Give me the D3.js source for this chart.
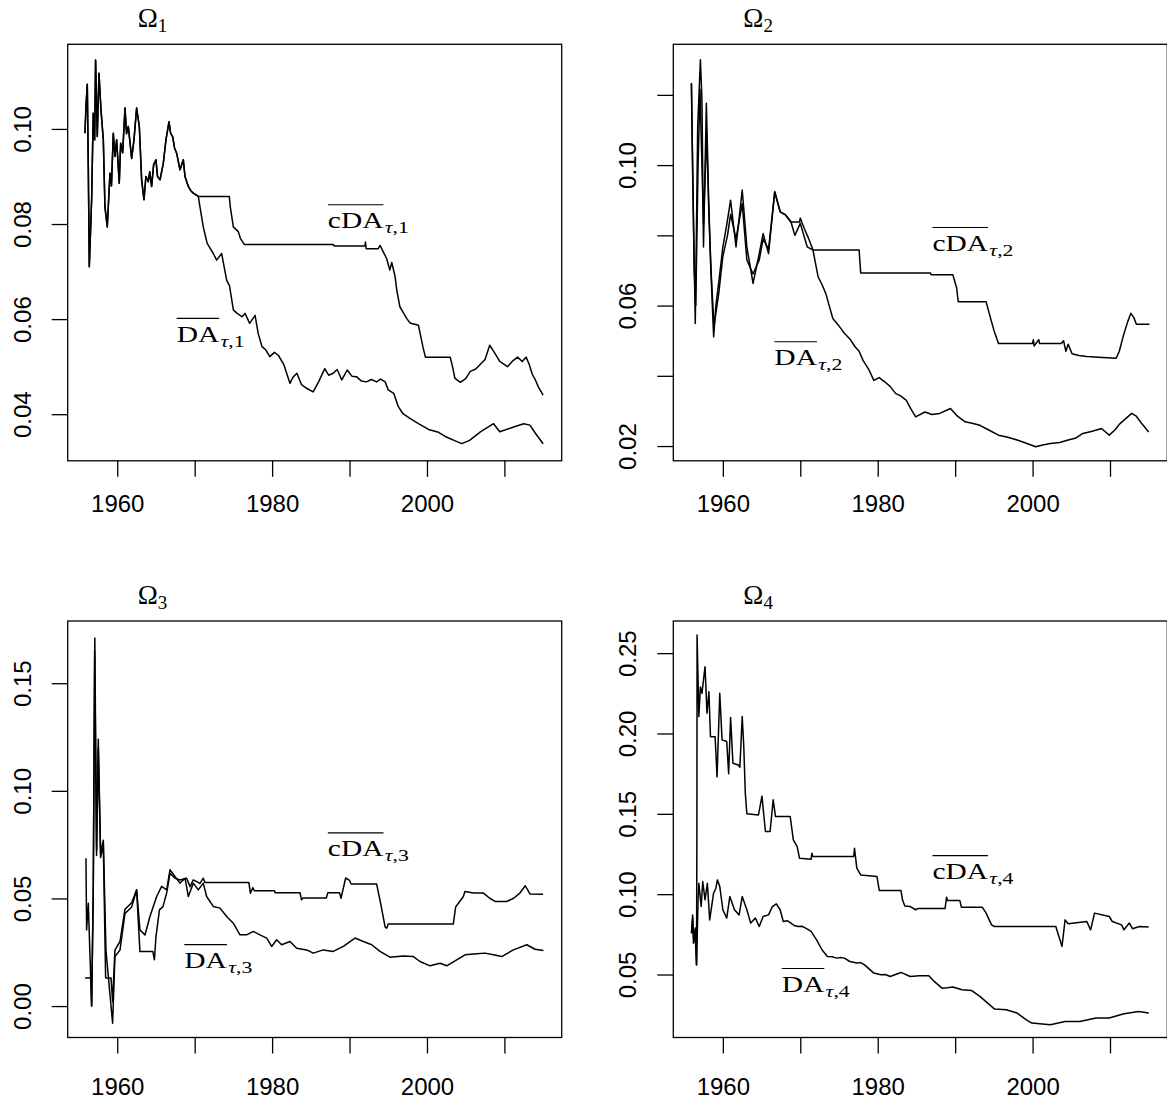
<!DOCTYPE html>
<html>
<head>
<meta charset="utf-8">
<script src="https://cdnjs.cloudflare.com/ajax/libs/d3/7.8.5/d3.min.js"></script>
<style>
  body { margin: 0; background: #fff; }
</style>
</head>
<body>
<svg class="chart"></svg>
<script>
// four panels, DA and cDA series for each Omega

var xTicks = [1960, 1970, 1980, 1990, 2000, 2010];
var xTickLabels = ["1960", "", "1980", "", "2000", ""];

var yTicks1 = [0.04, 0.06, 0.08, 0.10];
var yLabels1 = ["0.04", "0.06", "0.08", "0.10"];
var yTicks2 = [0.02, 0.04, 0.06, 0.08, 0.10, 0.12];
var yLabels2 = ["0.02", "", "0.06", "", "0.10", ""];
var yTicks3 = [0.00, 0.05, 0.10, 0.15];
var yLabels3 = ["0.00", "0.05", "0.10", "0.15"];
var yTicks4 = [0.05, 0.10, 0.15, 0.20, 0.25];
var yLabels4 = ["0.05", "0.10", "0.15", "0.20", "0.25"];

// panel 1
var early1 = [[1955.83,0.0991],[1955.96,0.1047],[1956.13,0.1094],[1956.26,0.0921],[1956.39,0.0710],[1956.69,0.0851],[1956.90,0.1033],[1957.08,0.0977],[1957.20,0.1145],[1957.42,0.0984],[1957.64,0.1117],[1957.90,0.1040],[1958.20,0.0977],[1958.41,0.0836],[1958.71,0.0794],[1959.06,0.0907],[1959.25,0.0880],[1959.49,0.0991],[1959.70,0.0942],[1959.92,0.0977],[1960.26,0.0886],[1960.44,0.0970],[1960.70,0.0950],[1961.00,0.1044],[1961.20,0.0990],[1961.43,0.1005],[1961.86,0.0938],[1962.16,0.0977],[1962.50,0.1044],[1962.85,0.1005],[1963.15,0.0893],[1963.45,0.0851],[1963.70,0.0900],[1964.01,0.0889],[1964.20,0.0910],[1964.44,0.0879],[1964.70,0.0925],[1965.00,0.0935],[1965.20,0.0900],[1965.52,0.0893],[1965.95,0.0928],[1966.29,0.0977],[1966.68,0.1015],[1966.90,0.0990],[1967.15,0.0984],[1967.40,0.0960],[1967.67,0.0949],[1968.10,0.0914],[1968.53,0.0935],[1968.75,0.0900],[1969.18,0.0879],[1969.50,0.0870],[1969.82,0.0865],[1970.47,0.0858]];
var da1Tail = [[1970.68,0.0836],[1971.11,0.0794],[1971.60,0.0760],[1972.40,0.0738],[1972.84,0.0724],[1973.48,0.0738],[1974.13,0.0682],[1974.50,0.0670],[1975.00,0.0619],[1975.50,0.0612],[1976.10,0.0605],[1976.50,0.0612],[1977.10,0.0591],[1977.80,0.0608],[1978.20,0.0570],[1978.70,0.0542],[1979.20,0.0535],[1979.70,0.0521],[1980.30,0.0530],[1980.80,0.0524],[1981.50,0.0505],[1982.30,0.0465],[1982.70,0.0478],[1983.20,0.0486],[1983.80,0.0462],[1984.50,0.0454],[1985.30,0.0447],[1986.00,0.0468],[1986.80,0.0496],[1987.30,0.0482],[1987.90,0.0486],[1988.40,0.0494],[1989.00,0.0472],[1989.70,0.0493],[1990.30,0.0480],[1990.90,0.0479],[1991.50,0.0470],[1992.20,0.0468],[1992.80,0.0473],[1993.50,0.0468],[1994.00,0.0474],[1994.60,0.0468],[1995.00,0.0451],[1995.70,0.0444],[1996.30,0.0416],[1996.90,0.0401],[1997.80,0.0391],[1998.90,0.0380],[2000.20,0.0368],[2001.50,0.0362],[2002.50,0.0352],[2003.50,0.0345],[2004.50,0.0338],[2005.50,0.0345],[2006.90,0.0363],[2008.60,0.0380],[2009.40,0.0363],[2011.20,0.0373],[2012.50,0.0380],[2013.30,0.0377],[2014.00,0.0360],[2015.00,0.0338]];
var cda1Tail = [[1974.47,0.0858],[1974.60,0.0836],[1974.99,0.0794],[1975.63,0.0784],[1975.90,0.0770],[1976.41,0.0757],[1987.90,0.0757],[1988.00,0.0754],[1992.00,0.0754],[1992.05,0.0762],[1992.15,0.0748],[1993.70,0.0748],[1993.94,0.0755],[1994.37,0.0741],[1994.80,0.0727],[1995.20,0.0703],[1995.45,0.0719],[1995.88,0.0690],[1996.10,0.0661],[1996.50,0.0626],[1997.00,0.0612],[1997.40,0.0601],[1997.80,0.0592],[1998.90,0.0587],[1999.20,0.0563],[1999.50,0.0540],[1999.80,0.0520],[2003.00,0.0520],[2003.30,0.0500],[2003.60,0.0476],[2004.30,0.0467],[2005.00,0.0475],[2005.60,0.0490],[2006.30,0.0495],[2006.90,0.0505],[2007.50,0.0515],[2008.10,0.0545],[2008.70,0.0530],[2009.40,0.0511],[2010.40,0.0500],[2011.00,0.0511],[2011.70,0.0520],[2012.30,0.0511],[2012.80,0.0520],[2013.20,0.0505],[2013.60,0.0484],[2014.00,0.0472],[2014.40,0.0457],[2015.00,0.0440]];
var da1 = early1.concat(da1Tail);
var cda1 = early1.concat(cda1Tail);

// panel 2
var da2 = [[1955.94,0.1233],[1956.03,0.1090],[1956.23,0.0815],[1956.44,0.0549],[1956.75,0.1109],[1957.10,0.1300],[1957.30,0.1185],[1957.50,0.0767],[1957.87,0.1176],[1958.17,0.0900],[1958.40,0.0729],[1958.81,0.0511],[1959.10,0.0600],[1959.50,0.0672],[1960.00,0.0767],[1960.50,0.0830],[1961.00,0.0900],[1961.70,0.0767],[1962.50,0.0929],[1963.10,0.0767],[1963.90,0.0663],[1964.70,0.0748],[1965.20,0.0805],[1965.90,0.0748],[1966.70,0.0924],[1967.40,0.0867],[1968.10,0.0858],[1968.80,0.0838],[1969.30,0.0800],[1970.00,0.0834],[1970.90,0.0767],[1971.64,0.0758],[1972.30,0.0682],[1972.80,0.0660],[1973.30,0.0634],[1974.20,0.0563],[1974.90,0.0545],[1975.70,0.0521],[1976.40,0.0505],[1977.10,0.0482],[1977.60,0.0470],[1978.10,0.0444],[1978.80,0.0420],[1979.50,0.0387],[1980.20,0.0395],[1980.90,0.0383],[1981.60,0.0370],[1982.30,0.0350],[1983.00,0.0342],[1983.70,0.0330],[1984.30,0.0305],[1984.90,0.0283],[1986.10,0.0297],[1987.00,0.0290],[1988.00,0.0293],[1989.40,0.0307],[1990.30,0.0285],[1991.30,0.0269],[1992.20,0.0265],[1993.20,0.0259],[1994.40,0.0245],[1995.60,0.0231],[1996.80,0.0225],[1998.00,0.0217],[1999.20,0.0208],[2000.40,0.0198],[2001.30,0.0203],[2002.30,0.0207],[2003.50,0.0210],[2004.60,0.0217],[2005.50,0.0222],[2006.50,0.0236],[2007.70,0.0242],[2008.90,0.0250],[2009.90,0.0231],[2010.60,0.0245],[2011.30,0.0264],[2012.80,0.0293],[2013.40,0.0285],[2014.10,0.0264],[2015.00,0.0240]];
var cda2 = [[1955.94,0.1233],[1956.10,0.0980],[1956.30,0.0700],[1956.50,0.0600],[1956.80,0.1000],[1957.05,0.1215],[1957.25,0.1040],[1957.50,0.0830],[1957.90,0.1090],[1958.20,0.0860],[1958.50,0.0690],[1958.85,0.0540],[1959.50,0.0640],[1960.00,0.0740],[1960.60,0.0800],[1961.00,0.0860],[1961.70,0.0790],[1962.50,0.0890],[1963.10,0.0730],[1963.90,0.0690],[1964.70,0.0730],[1965.20,0.0790],[1965.90,0.0760],[1966.70,0.0924],[1967.40,0.0867],[1968.10,0.0858],[1968.80,0.0838],[1969.90,0.0838],[1970.00,0.0849],[1970.50,0.0820],[1971.00,0.0795],[1971.64,0.0758],[1977.60,0.0758],[1977.80,0.0693],[1986.80,0.0693],[1986.90,0.0688],[1989.70,0.0688],[1990.20,0.0650],[1990.40,0.0611],[1994.00,0.0611],[1994.50,0.0570],[1995.00,0.0530],[1995.60,0.0492],[2000.00,0.0492],[2000.10,0.0503],[2000.20,0.0485],[2000.80,0.0503],[2000.90,0.0492],[2003.70,0.0492],[2004.00,0.0500],[2004.30,0.0470],[2004.60,0.0490],[2005.10,0.0463],[2006.00,0.0458],[2007.00,0.0455],[2008.50,0.0453],[2010.80,0.0450],[2011.20,0.0470],[2011.80,0.0520],[2012.30,0.0555],[2012.70,0.0578],[2013.10,0.0565],[2013.40,0.0547],[2015.10,0.0547]];

// panel 3
var da3 = [[1955.96,0.0687],[1956.04,0.0354],[1956.26,0.0478],[1956.69,0.0000],[1956.90,0.0540],[1957.10,0.1710],[1957.33,0.0725],[1957.55,0.1240],[1957.85,0.0710],[1958.20,0.0770],[1958.54,0.0260],[1959.40,-0.0080],[1959.70,0.0230],[1960.35,0.0260],[1961.00,0.0430],[1961.86,0.0460],[1962.50,0.0540],[1962.93,0.0354],[1963.58,0.0330],[1964.22,0.0416],[1965.09,0.0509],[1965.73,0.0556],[1966.38,0.0540],[1966.81,0.0633],[1967.46,0.0602],[1968.10,0.0571],[1968.75,0.0594],[1969.18,0.0509],[1969.82,0.0571],[1970.47,0.0540],[1971.11,0.0571],[1971.54,0.0509],[1972.40,0.0463],[1973.27,0.0455],[1974.13,0.0416],[1974.99,0.0385],[1975.85,0.0331],[1976.71,0.0331],[1977.57,0.0347],[1978.43,0.0331],[1979.30,0.0316],[1979.94,0.0277],[1980.59,0.0308],[1981.23,0.0285],[1982.31,0.0300],[1983.17,0.0269],[1984.46,0.0261],[1985.32,0.0246],[1986.61,0.0261],[1987.90,0.0254],[1989.20,0.0277],[1990.70,0.0316],[1991.78,0.0300],[1992.86,0.0285],[1993.93,0.0254],[1995.22,0.0227],[1996.95,0.0233],[1998.24,0.0230],[1999.10,0.0207],[2000.39,0.0187],[2001.69,0.0199],[2002.55,0.0187],[2003.84,0.0215],[2004.92,0.0238],[2006.43,0.0243],[2007.50,0.0246],[2008.58,0.0238],[2009.66,0.0230],[2011.16,0.0261],[2012.89,0.0285],[2013.96,0.0264],[2015.04,0.0258]];
var cda3 = [[1955.85,0.0130],[1956.60,0.0130],[1956.69,0.0000],[1956.90,0.0520],[1957.08,0.1650],[1957.33,0.0700],[1957.55,0.1200],[1957.85,0.0690],[1958.20,0.0750],[1958.50,0.0130],[1959.20,0.0130],[1959.40,0.0020],[1959.70,0.0260],[1960.35,0.0300],[1961.00,0.0450],[1961.86,0.0480],[1962.50,0.0540],[1962.93,0.0253],[1964.60,0.0253],[1964.80,0.0215],[1965.00,0.0323],[1965.45,0.0447],[1965.90,0.0462],[1966.38,0.0525],[1966.81,0.0617],[1967.46,0.0594],[1968.10,0.0586],[1968.96,0.0594],[1969.40,0.0555],[1969.82,0.0586],[1970.68,0.0570],[1971.11,0.0594],[1971.33,0.0574],[1977.00,0.0574],[1977.20,0.0524],[1977.50,0.0550],[1977.70,0.0536],[1980.30,0.0536],[1980.40,0.0527],[1983.60,0.0527],[1983.80,0.0494],[1984.00,0.0502],[1987.00,0.0502],[1987.20,0.0527],[1988.70,0.0527],[1988.90,0.0501],[1989.50,0.0595],[1990.00,0.0584],[1990.20,0.0567],[1993.50,0.0567],[1994.00,0.0480],[1994.60,0.0367],[1994.80,0.0362],[1995.00,0.0381],[2003.40,0.0381],[2003.70,0.0460],[2004.70,0.0509],[2004.90,0.0532],[2006.00,0.0525],[2007.30,0.0525],[2008.10,0.0501],[2008.80,0.0486],[2010.30,0.0486],[2011.20,0.0501],[2012.00,0.0525],[2012.70,0.0559],[2013.30,0.0521],[2015.00,0.0520]];

// panel 4
var da4 = [[1955.95,0.0757],[1956.10,0.0871],[1956.20,0.0695],[1956.40,0.0778],[1956.60,0.0560],[1956.80,0.0965],[1956.90,0.1068],[1957.20,0.0923],[1957.40,0.1079],[1957.70,0.0965],[1958.00,0.1068],[1958.30,0.0840],[1958.80,0.1006],[1959.10,0.1037],[1959.30,0.1089],[1959.60,0.1048],[1960.00,0.0903],[1960.50,0.0851],[1960.90,0.0985],[1961.50,0.0903],[1962.10,0.0871],[1962.50,0.0985],[1963.10,0.0903],[1963.60,0.0820],[1964.20,0.0851],[1964.70,0.0799],[1965.20,0.0861],[1965.90,0.0871],[1966.40,0.0923],[1966.90,0.0940],[1967.40,0.0903],[1967.80,0.0830],[1968.30,0.0835],[1968.80,0.0820],[1969.20,0.0805],[1969.70,0.0799],[1970.20,0.0800],[1970.70,0.0789],[1971.40,0.0768],[1972.10,0.0716],[1972.80,0.0654],[1973.50,0.0612],[1974.10,0.0610],[1974.70,0.0602],[1975.20,0.0606],[1975.70,0.0602],[1976.40,0.0581],[1977.30,0.0571],[1977.80,0.0574],[1978.30,0.0560],[1979.50,0.0509],[1980.40,0.0498],[1981.00,0.0500],[1981.60,0.0488],[1983.00,0.0513],[1984.20,0.0488],[1985.40,0.0492],[1986.60,0.0492],[1987.30,0.0457],[1988.30,0.0415],[1989.00,0.0418],[1989.70,0.0422],[1990.90,0.0405],[1992.10,0.0401],[1993.20,0.0364],[1994.20,0.0322],[1995.10,0.0285],[1996.60,0.0281],[1998.00,0.0260],[1999.20,0.0218],[1999.90,0.0198],[2002.30,0.0187],[2004.20,0.0208],[2006.10,0.0208],[2008.20,0.0229],[2009.90,0.0229],[2011.80,0.0256],[2013.70,0.0270],[2015.00,0.0260]];
var cda4 = [[1955.95,0.0757],[1956.10,0.0850],[1956.25,0.0700],[1956.45,0.0790],[1956.60,0.0560],[1956.65,0.1430],[1956.67,0.2613],[1956.90,0.2105],[1957.10,0.2290],[1957.30,0.2250],[1957.70,0.2416],[1957.95,0.2126],[1958.20,0.2260],[1958.40,0.1980],[1959.00,0.1980],[1959.25,0.1730],[1959.60,0.2250],[1959.90,0.1960],[1960.50,0.1950],[1960.75,0.1750],[1961.00,0.2100],[1961.30,0.1815],[1962.00,0.1804],[1962.20,0.1790],[1962.50,0.2105],[1962.70,0.1920],[1962.90,0.1628],[1963.10,0.1500],[1964.60,0.1493],[1965.05,0.1610],[1965.50,0.1390],[1966.10,0.1390],[1966.50,0.1587],[1966.80,0.1483],[1968.70,0.1483],[1969.10,0.1338],[1969.60,0.1296],[1969.90,0.1224],[1971.40,0.1218],[1971.50,0.1255],[1971.60,0.1234],[1976.90,0.1234],[1977.00,0.1286],[1977.30,0.1162],[1977.80,0.1120],[1979.90,0.1110],[1980.20,0.1023],[1983.00,0.1023],[1983.20,0.0965],[1983.50,0.0927],[1984.20,0.0923],[1984.90,0.0903],[1985.20,0.0911],[1988.70,0.0911],[1988.90,0.0981],[1989.00,0.0961],[1990.60,0.0961],[1990.80,0.0919],[1993.50,0.0919],[1994.00,0.0882],[1994.70,0.0809],[1995.10,0.0799],[2003.00,0.0799],[2003.40,0.0737],[2003.80,0.0675],[2004.20,0.0840],[2004.60,0.0816],[2007.00,0.0830],[2007.50,0.0778],[2008.00,0.0882],[2009.90,0.0861],[2010.30,0.0830],[2011.50,0.0809],[2011.80,0.0778],[2012.50,0.0820],[2012.90,0.0785],[2013.80,0.0799],[2015.00,0.0795]];

// where the series names sit, [year, value] of the text baseline start
var cdaLabelAt = [[1987.2, 0.0791], [1987.07, 0.0755], [1987.2, 0.0695], [1987.07, 0.1093]];
var daLabelAt = [[1967.67, 0.0552], [1966.65, 0.0430], [1968.66, 0.0176], [1967.6, 0.0391]];

var ui = {
  width: 494,
  height: 416.5,
  sans: "'Liberation Sans', Arial, Helvetica, sans-serif",
  serif: "'Liberation Serif', 'Times New Roman', serif",
  stroke: 1.5
}

var chart = d3.select(".chart")
  .attr("width", 1167)
  .attr("height", 1105);

var panels = [
  { left: 67.7, top: 44.3, yDomain: [0.0302, 0.1178], yTicks: yTicks1, yLabels: yLabels1, da: da1, cda: cda1, n: "1", xPad: 18 },
  { left: 673.3, top: 44.3, yDomain: [0.0158, 0.1344], yTicks: yTicks2, yLabels: yLabels2, da: da2, cda: cda2, n: "2", xPad: 18 },
  { left: 67.7, top: 621, yDomain: [-0.0146, 0.1789], yTicks: yTicks3, yLabels: yLabels3, da: da3, cda: cda3, n: "3", xPad: 24 },
  { left: 673.3, top: 621, yDomain: [0.0108, 0.2700], yTicks: yTicks4, yLabels: yLabels4, da: da4, cda: cda4, n: "4", xPad: 24 }
];

function seriesLabel(g, px, py, base, n, width) {
  var lg = g.append("g").attr("transform", "translate(" + px + "," + py + ")");
  var inner = lg.append("g");
  var t = inner.append("text")
    .attr("font-family", ui.serif)
    .attr("font-size", 23)
    .text(base);
  var w = t.node().getComputedTextLength();
  var sub = inner.append("text")
    .attr("x", w + 1)
    .attr("y", 5)
    .attr("font-family", ui.serif)
    .attr("font-size", 17);
  sub.append("tspan").attr("font-style", "italic").text("τ");
  sub.append("tspan").text("," + n);
  inner.attr("transform", "scale(" + (width / w) + ",1)");
  lg.append("line")
    .attr("x1", 0).attr("x2", width)
    .attr("y1", -23.6).attr("y2", -23.6)
    .attr("stroke", "#000")
    .attr("stroke-width", 1.1);
}

panels.forEach(function(p, k) {
  var g = chart.append("g").attr("transform", "translate(" + p.left + "," + p.top + ")");
  var x = d3.scaleLinear().domain([1953.6, 2017.4]).range([0, ui.width]);
  var y = d3.scaleLinear().domain(p.yDomain).range([ui.height, 0]);
  var line = d3.line().x(function(d) { return x(d[0]) }).y(function(d) { return y(d[1]) });

  [p.da, p.cda].forEach(function(s) {
    g.append("path")
      .datum(s)
      .attr("d", line)
      .attr("fill", "none")
      .attr("stroke", "#000")
      .attr("stroke-width", ui.stroke)
      .attr("stroke-linejoin", "round");
  });

  var xa = g.append("g")
    .attr("transform", "translate(0," + ui.height + ")")
    .call(d3.axisBottom(x).tickValues(xTicks).tickSize(16).tickPadding(p.xPad)
      .tickFormat(function(d, i) { return xTickLabels[i] }));
  xa.select(".domain").remove();
  xa.attr("font-family", ui.sans).attr("font-size", 24);
  xa.selectAll("line").attr("stroke-width", 1.3);
  xa.selectAll("text").attr("fill", "#000");

  var ya = g.append("g")
    .call(d3.axisLeft(y).tickValues(p.yTicks).tickSize(16)
      .tickFormat(function(d, i) { return p.yLabels[i] }));
  ya.select(".domain").remove();
  ya.attr("font-family", ui.sans).attr("font-size", 24);
  ya.selectAll("line").attr("stroke-width", 1.3);
  ya.selectAll("text")
    .attr("x", 0)
    .attr("dy", null)
    .attr("fill", "#000")
    .attr("text-anchor", "middle")
    .attr("transform", "translate(-37,0) rotate(-90)");

  g.append("rect")
    .attr("width", ui.width)
    .attr("height", ui.height)
    .attr("fill", "none")
    .attr("stroke", "#000")
    .attr("stroke-width", 1.3);

  var title = g.append("text")
    .attr("x", 70)
    .attr("y", -17.5)
    .attr("font-family", ui.serif)
    .attr("font-size", 27)
    .text("Ω");
  title.append("tspan").attr("font-size", 19).attr("dy", 5).text(p.n);

  seriesLabel(g, x(cdaLabelAt[k][0]), y(cdaLabelAt[k][1]), "cDA", p.n, 55.6);
  seriesLabel(g, x(daLabelAt[k][0]), y(daLabelAt[k][1]), "DA", p.n, 42.6);
});
</script>
</body>
</html>
